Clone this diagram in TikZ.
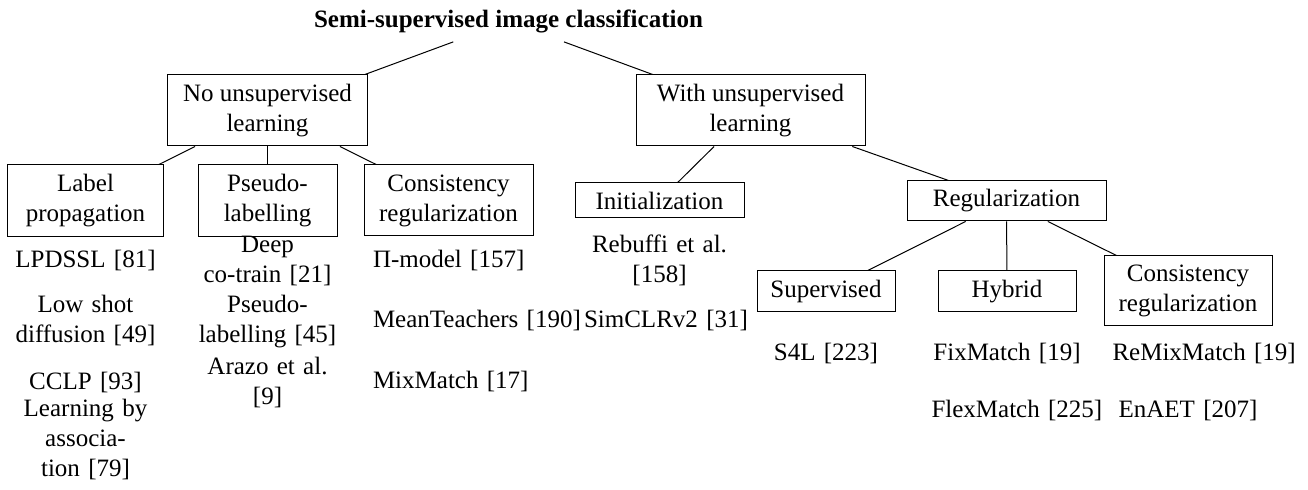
\documentclass[tikz,border=0pt]{standalone}
\usepackage{fontspec}
\setmainfont{Liberation Serif}
\begin{document}
\begin{tikzpicture}[x=0.4pt,y=-0.4pt,
  box/.style={draw, align=center, inner sep=0pt, anchor=center},
  leaf/.style={text width=60.4pt, align=center, inner sep=0pt, anchor=base},
  edge/.style={draw, line width=0.4pt}]
\useasboundingbox (0,0) rectangle (1308,490);
% title
\node[font=\bfseries] (root) at (508.5,21.5) {Semi-supervised image classification};
% level 1
\node[box, minimum width=79.6pt, minimum height=28.4pt] (no) at (267.5,110.5) {No unsupervised\\learning};
\node[box, minimum width=91.6pt, minimum height=28.4pt] (with) at (750.5,110.5) {With unsupervised\\learning};
% level 2
\node[box, minimum width=62pt, minimum height=28.8pt] (label) at (85.5,201) {Label\\propagation};
\node[box, minimum width=55.6pt, minimum height=28.8pt] (pseudo) at (267.5,201) {Pseudo-\\labelling};
\node[box, minimum width=67.6pt, minimum height=28.4pt] (cons) at (448.5,200.5) {Consistency\\regularization};
\node[box, minimum width=67.6pt, minimum height=14pt] (init) at (659.5,200.5) {Initialization};
\node[box, minimum width=79.6pt, minimum height=16pt] (reg) at (1006.5,201) {Regularization};
% level 3
\node[box, minimum width=55.2pt, minimum height=16.4pt] (sup) at (826,291.5) {Supervised};
\node[box, minimum width=55.2pt, minimum height=16.4pt] (hyb) at (1007,291.5) {Hybrid};
\node[box, minimum width=67.2pt, minimum height=28pt] (cons2) at (1188,291) {Consistency\\regularization};
% connectors
\draw[edge] (root) -- (no);
\draw[edge] (root) -- (with);
\draw[edge] (no) -- (label);
\draw[edge] (no) -- (pseudo);
\draw[edge] (no) -- (cons);
\draw[edge] (with) -- (init);
\draw[edge] (with) -- (reg);
\draw[edge] (reg) -- (sup);
\draw[edge] (reg) -- (hyb);
\draw[edge] (reg) -- (cons2);
% leaves: label propagation
\node[leaf] (lpdssl) at (85.5,268) {\mbox{LPDSSL [81]}};
\node[leaf] (lowshot) at (85.5,313) {\mbox{Low shot}\\\mbox{diffusion [49]}};
\node[leaf] (cclp) at (85.5,390) {\mbox{CCLP [93]}};
\node[leaf] (lba) at (85.5,417) {\mbox{Learning by}\\\mbox{associa-}\\\mbox{tion [79]}};
% leaves: pseudo-labelling
\node[leaf] (deep) at (267.5,253) {\mbox{Deep}\\\mbox{co-train [21]}};
\node[leaf] (pl) at (267.5,313) {\mbox{Pseudo-}\\\mbox{labelling [45]}};
\node[leaf] (arazo) at (267.5,375) {\mbox{Arazo et al.}\\\mbox{[9]}};
% leaves: consistency regularization
\node[leaf] (pimodel) at (448.5,268) {\mbox{Π-model [157]}};
\node[leaf] (mt) at (448.5,328) {\mbox{MeanTeachers [190]}};
\node[leaf] (mm) at (448.5,389) {\mbox{MixMatch [17]}};
% leaves: initialization
\node[leaf] (rebuffi) at (659.5,253) {\mbox{Rebuffi et al.}\\\mbox{[158]}};
\node[leaf] (simclr) at (659.5,328) {\mbox{SimCLRv2 [31]}};
% leaves: regularization
\node[leaf] (s4l) at (826,361) {\mbox{S4L [223]}};
\node[leaf] (fix) at (1007,361) {\mbox{FixMatch [19]}};
\node[leaf] (flex) at (1007,418) {\mbox{FlexMatch [225]}};
\node[leaf] (remix) at (1188,361) {\mbox{ReMixMatch [19]}};
\node[leaf] (enaet) at (1188,418) {\mbox{EnAET [207]}};
\end{tikzpicture}
\end{document}
